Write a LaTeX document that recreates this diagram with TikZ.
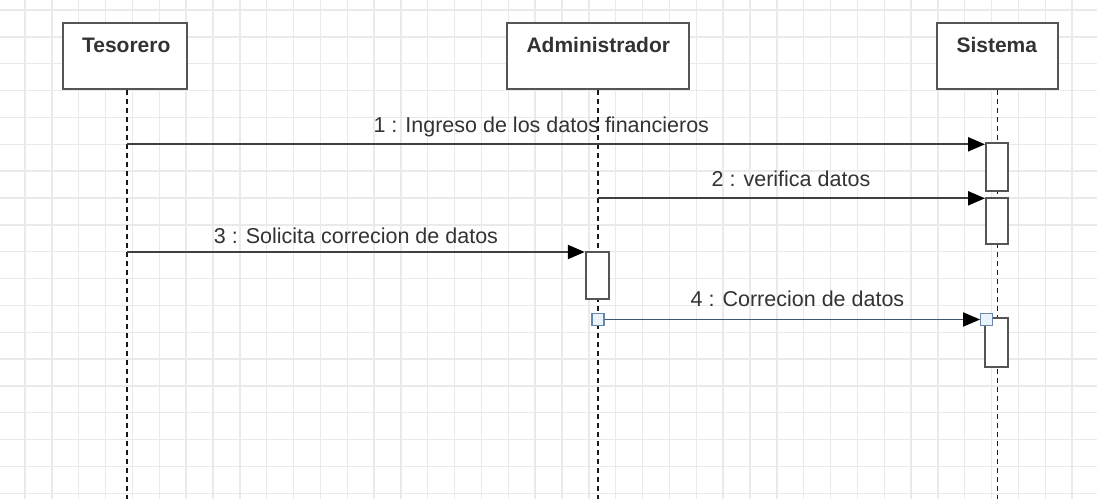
\documentclass[tikz,border=0pt]{standalone}
\usepackage{fontspec}
\setmainfont{Liberation Sans}
\usetikzlibrary{arrows.meta}
\definecolor{gridc}{HTML}{EAEAEA}
\definecolor{boxc}{HTML}{555555}
\definecolor{msgc}{HTML}{3F3F3F}
\definecolor{txtc}{HTML}{333333}
\definecolor{bluec}{HTML}{3F5670}
\definecolor{sqfill}{HTML}{EAF2FB}
\definecolor{sqdraw}{HTML}{6A87A8}
\tikzset{
  actorbox/.style={draw=boxc, line width=2pt, fill=white, minimum width=124pt, minimum height=66pt, inner sep=0pt},
  hdr/.style={font=\fontsize{21}{24}\selectfont\bfseries, text=txtc, anchor=base, inner sep=0pt},
  lifeline/.style={draw=black!90, line width=1.8pt, dash pattern=on 4.5pt off 4.5pt},
  actbox/.style={draw=boxc, line width=2pt, fill=white, minimum width=22pt, inner sep=0pt},
  msg/.style={draw=msgc, line width=2.2pt, -{Triangle[length=17pt,width=14pt,fill=black,color=black]}},
  msgb/.style={draw=bluec, line width=1.8pt, -{Triangle[length=17pt,width=14pt,fill=black,color=black]}},
  lbl/.style={font=\fontsize{21.5}{24}\selectfont, text=txtc, anchor=base, inner sep=0pt},
  handle/.style={draw=sqdraw, line width=1.2pt, fill=sqfill, minimum size=12pt, inner sep=0pt}
}
\begin{document}
\begin{tikzpicture}[x=1pt,y=-1pt]
\useasboundingbox (0,0) rectangle (1097,499);
\fill[white] (0,0) rectangle (1097,499);
% grid
\foreach \i in {0,...,40} {
  \draw[gridc, line width=1.4pt] ({25+26.85*\i},0) -- ({25+26.85*\i},499);
}
\foreach \j in {0,...,18} {
  \draw[gridc, line width=1.4pt] (0,{10+26.85*\j}) -- (1097,{10+26.85*\j});
}
% lifeline ends
\coordinate (tesEnd) at (127.3,499);
\coordinate (admEnd) at (598.3,499);
\coordinate (sisEnd) at (997.5,499);
% actor boxes
\node[actorbox] (tes) at (125.3,56.3) {};
\node[actorbox, minimum width=182pt] (adm) at (597.8,56.3) {};
\node[actorbox, minimum width=121pt] (sis) at (997.2,56.3) {};
\node[hdr] (tesT) at (126.2,52.3) {Tesorero};
\node[hdr] (admT) at (598.3,52.3) {Administrador};
\node[hdr] (sisT) at (996.8,52.3) {Sistema};
% lifelines
\draw[lifeline] (tes.south -| tesEnd) -- (tesEnd);
\draw[lifeline] (adm.south -| admEnd) -- (admEnd);
\draw[lifeline] (sis.south -| sisEnd) -- (sisEnd);
% activation boxes
\node[actbox, minimum height=48pt] (act1) at (997,167.2) {};
\node[actbox, minimum height=46pt] (act2) at (997,221.3) {};
\node[actbox, minimum width=23pt, minimum height=47.5pt] (act3) at (597.3,275.3) {};
\node[actbox, minimum width=23pt, minimum height=48.5pt] (act4) at (996.7,342.5) {};
% message 1
\coordinate (m1s) at (127.3,144.3);
\draw[msg] (m1s) -- (m1s -| act1.west);
\node[lbl] (l1) at (541.3,132.3) {1 : Ingreso de los datos financieros};
% message 2
\coordinate (m2s) at (598.3,198.3);
\draw[msg] (m2s) -- (m2s -| act2.west);
\node[lbl] (l2) at (791,186.5) {2 : verifica datos};
% message 3
\coordinate (m3s) at (127.3,252);
\draw[msg] (m3s) -- (m3s -| act3.west);
\node[lbl] (l3) at (356,243) {3 : Solicita correcion de datos};
% message 4
\node[handle] (h1) at (598,319.5) {};
\node[handle] (h2) at (986.7,319.5) {};
\draw[msgb] (h1.east) -- (h2.west);
\node[lbl] (l4) at (797.5,306) {4 : Correcion de datos};
\end{tikzpicture}
\end{document}
